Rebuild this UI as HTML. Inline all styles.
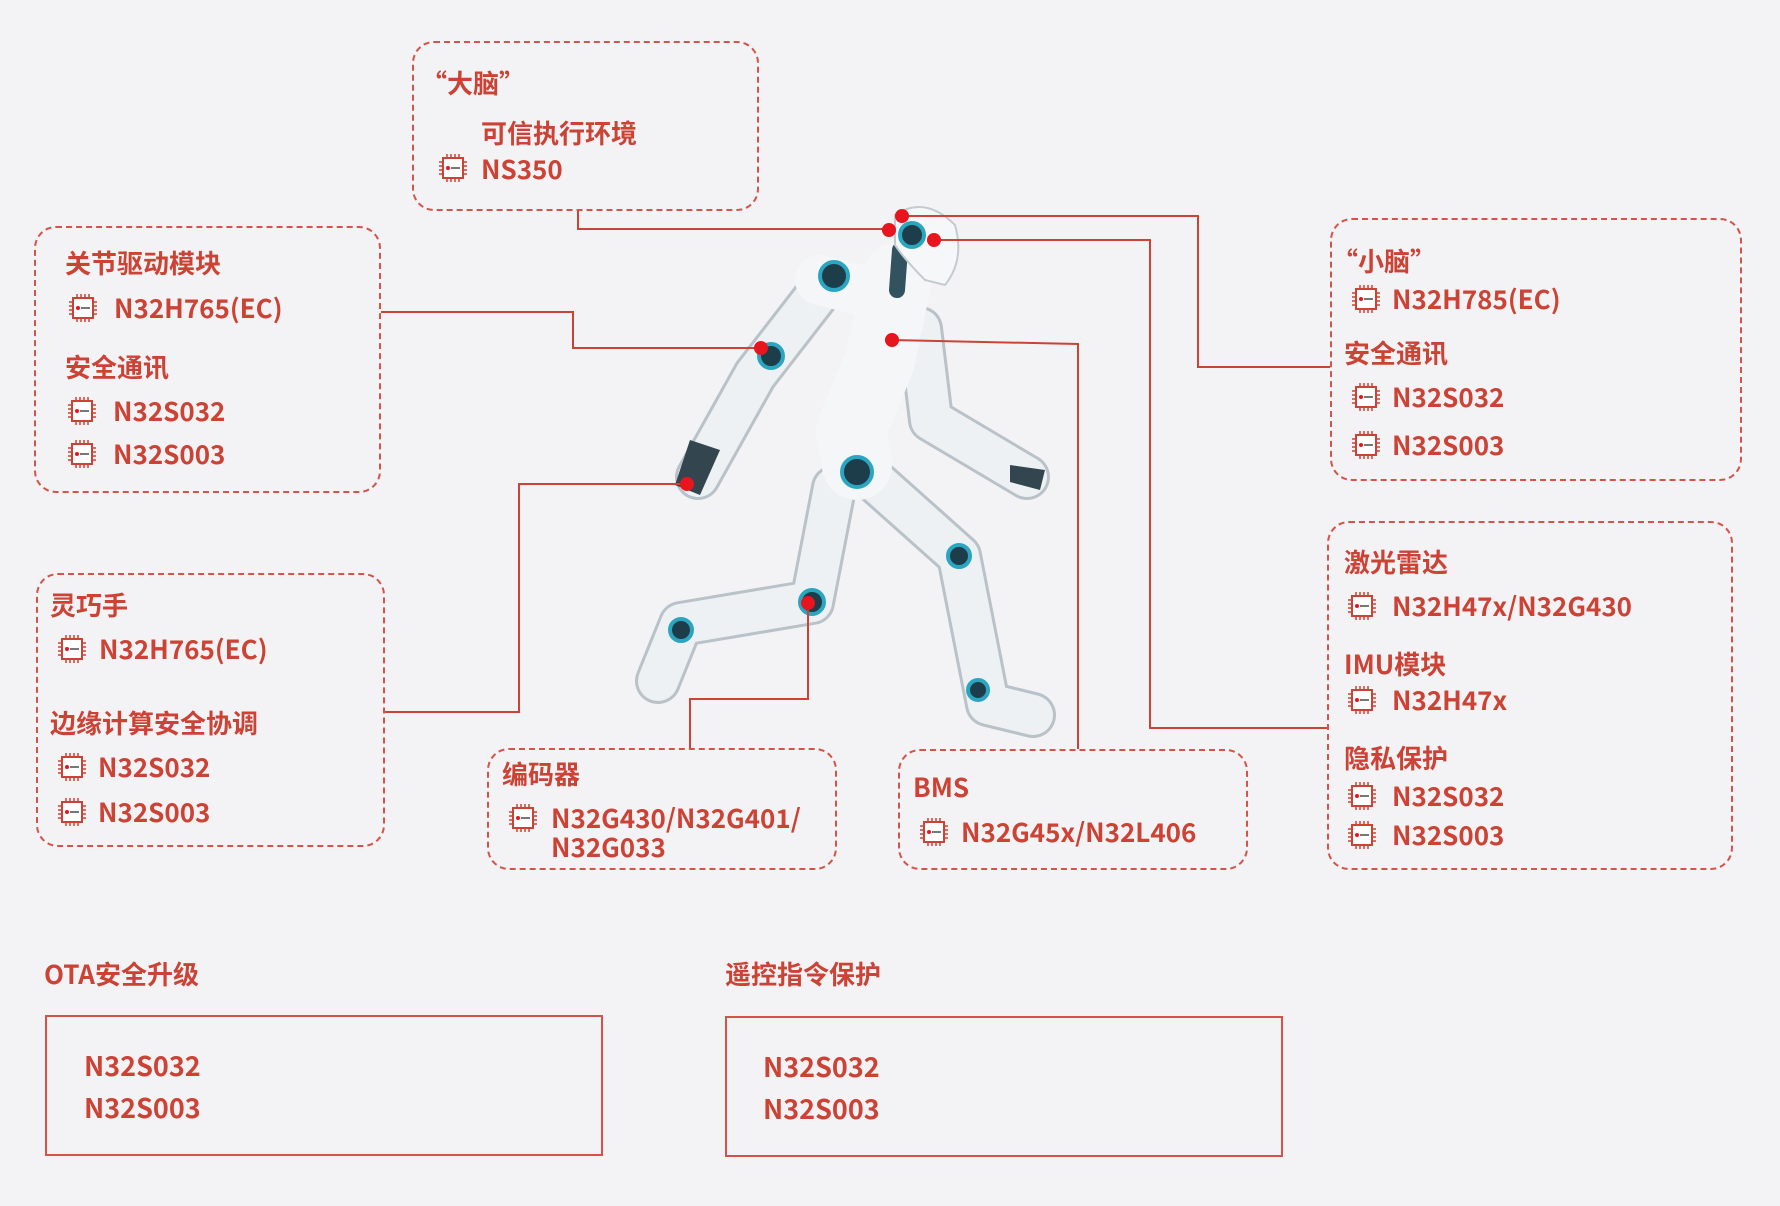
<!DOCTYPE html>
<html><head><meta charset="utf-8">
<style>
*{margin:0;padding:0;box-sizing:border-box}
body{width:1780px;height:1206px;background:#f3f3f5;position:relative;overflow:hidden;font-family:"Noto Sans CJK SC","Liberation Sans",sans-serif;color:#cc4336;font-weight:700}
.box{position:absolute;border:2px dashed #d4544a;border-radius:22px}
.sol{position:absolute;border:2px solid #d65148}
.t{position:absolute;font-size:26px;line-height:26px;white-space:nowrap}
.m{font-weight:600}
.c{position:absolute;width:30px;height:30px}
svg.lines{position:absolute;left:0;top:0}
</style></head><body>
<svg width="0" height="0" style="position:absolute">
<defs>
<symbol id="chip" viewBox="0 0 30 30">
<rect x="5" y="5" width="20" height="20" fill="#fff" stroke="#cc4336" stroke-width="2"/>
<g stroke="#cc4336" stroke-width="1.5">
<path d="M9 1v4M13 1v4M17 1v4M21 1v4M9 25v4M13 25v4M17 25v4M21 25v4M1 9h4M1 13h4M1 17h4M1 21h4M25 9h4M25 13h4M25 17h4M25 21h4"/>
</g>
<circle cx="10" cy="15" r="2" fill="#e8141e"/>
<rect x="13" y="14" width="9" height="2" fill="#777"/>
</symbol>
</defs></svg>

<svg class="lines" width="1780" height="1206">
<g stroke-linecap="round" stroke-linejoin="round" fill="none">
 <g stroke="#b9c2c8" stroke-width="46">
  <path d="M834 488 L812 602 L681 624 L658 681"/>
  <path d="M857 465 L959 556 L988 704 L1033 715"/>
  <path d="M817 295 L755 375 L698 477"/>
  <path d="M920 329 L931 420 L1027 477"/>
  <path d="M897 278 L880 360 L851 431 L857 465"/>
 </g>
 <g stroke="#eef1f3" stroke-width="40">
  <path d="M834 488 L812 602 L681 624 L658 681"/>
  <path d="M857 465 L959 556 L988 704 L1033 715"/>
  <path d="M817 295 L755 375 L698 477"/>
  <path d="M920 329 L931 420 L1027 477"/>
 </g>
 <path d="M897 278 L880 360 L851 431 L857 465" stroke="#f4f6f7" stroke-width="70"/>
 <path d="M820 280 L900 300" stroke="#f4f6f7" stroke-width="50"/>
 <path d="M900 250 L897 290" stroke="#33525f" stroke-width="16"/>
</g>
<path d="M895 215 Q925 195 955 225 Q965 260 945 285 L925 280 Q905 260 895 245 Z" fill="#f6f7f8" stroke="#c4cbd0" stroke-width="2"/>
<g fill="#1e3d4b" stroke="#2aa6c0" stroke-width="4">
 <circle cx="912" cy="235" r="12"/><circle cx="834" cy="276" r="14"/><circle cx="857" cy="472" r="15"/>
 <circle cx="959" cy="556" r="11"/><circle cx="681" cy="630" r="11"/><circle cx="978" cy="690" r="10"/>
 <circle cx="771" cy="356" r="12"/><circle cx="812" cy="602" r="12"/>
</g>
<g fill="#33454f"><path d="M690 440 l-15 45 l25 10 l20-45z"/><path d="M1010 465 l35 5 l-5 20 l-30-8z"/></g>

<g stroke="#cc4336" stroke-width="2" fill="none">
 <polyline points="578,211 578,229 889,229"/>
 <polyline points="902,216 1198,216 1198,367 1330,367"/>
 <polyline points="934,240 1150,240 1150,728 1327,728"/>
 <polyline points="892,340 1078,344 1078,749"/>
 <polyline points="381,312 573,312 573,348 761,348"/>
 <polyline points="385,712 519,712 519,484 687,484"/>
 <polyline points="690,748 690,699 808,699 808,603"/>
</g>
<g fill="#e8141e">
 <circle cx="889" cy="230" r="7"/><circle cx="902" cy="216" r="7"/><circle cx="934" cy="240" r="7"/>
 <circle cx="892" cy="340" r="7"/><circle cx="761" cy="348" r="7"/><circle cx="687" cy="484" r="7"/><circle cx="808" cy="603" r="7"/>
</g>
</svg>

<div class="box" style="left:412px;top:41px;width:347px;height:170px"></div>
<div class="box" style="left:34px;top:226px;width:347px;height:267px"></div>
<div class="box" style="left:1330px;top:218px;width:412px;height:263px"></div>
<div class="box" style="left:1327px;top:521px;width:406px;height:349px"></div>
<div class="box" style="left:36px;top:573px;width:349px;height:274px"></div>
<div class="box" style="left:487px;top:748px;width:350px;height:122px"></div>
<div class="box" style="left:898px;top:749px;width:350px;height:121px"></div>
<div class="sol" style="left:45px;top:1015px;width:558px;height:141px"></div>
<div class="sol" style="left:725px;top:1016px;width:558px;height:141px"></div>

<div class="t" style="left:421px;top:70px">“大脑”</div>
<div class="t" style="left:481px;top:120px">可信执行环境</div>
<svg class="c" style="left:438px;top:153px"><use href="#chip"/></svg>
<div class="t" style="left:481px;top:156px">NS350</div>

<div class="t" style="left:65px;top:250px">关节驱动模块</div>
<svg class="c" style="left:68px;top:293px"><use href="#chip"/></svg>
<div class="t" style="left:114px;top:295px">N32H765(EC)</div>
<div class="t" style="left:65px;top:354px">安全通讯</div>
<svg class="c" style="left:67px;top:396px"><use href="#chip"/></svg>
<div class="t m" style="left:113px;top:398px">N32S032</div>
<svg class="c" style="left:67px;top:439px"><use href="#chip"/></svg>
<div class="t m" style="left:113px;top:441px">N32S003</div>

<div class="t" style="left:1332px;top:248px">“小脑”</div>
<svg class="c" style="left:1351px;top:284px"><use href="#chip"/></svg>
<div class="t" style="left:1392px;top:286px">N32H785(EC)</div>
<div class="t" style="left:1344px;top:340px">安全通讯</div>
<svg class="c" style="left:1351px;top:382px"><use href="#chip"/></svg>
<div class="t m" style="left:1392px;top:384px">N32S032</div>
<svg class="c" style="left:1351px;top:430px"><use href="#chip"/></svg>
<div class="t m" style="left:1392px;top:432px">N32S003</div>

<div class="t" style="left:1344px;top:549px">激光雷达</div>
<svg class="c" style="left:1347px;top:591px"><use href="#chip"/></svg>
<div class="t" style="left:1392px;top:593px">N32H47x/N32G430</div>
<div class="t" style="left:1344px;top:651px">IMU模块</div>
<svg class="c" style="left:1347px;top:685px"><use href="#chip"/></svg>
<div class="t m" style="left:1392px;top:687px">N32H47x</div>
<div class="t" style="left:1344px;top:745px">隐私保护</div>
<svg class="c" style="left:1347px;top:781px"><use href="#chip"/></svg>
<div class="t m" style="left:1392px;top:783px">N32S032</div>
<svg class="c" style="left:1347px;top:820px"><use href="#chip"/></svg>
<div class="t m" style="left:1392px;top:822px">N32S003</div>

<div class="t" style="left:50px;top:592px">灵巧手</div>
<svg class="c" style="left:57px;top:634px"><use href="#chip"/></svg>
<div class="t" style="left:99px;top:636px">N32H765(EC)</div>
<div class="t" style="left:50px;top:710px">边缘计算安全协调</div>
<svg class="c" style="left:57px;top:752px"><use href="#chip"/></svg>
<div class="t m" style="left:98px;top:754px">N32S032</div>
<svg class="c" style="left:57px;top:797px"><use href="#chip"/></svg>
<div class="t m" style="left:98px;top:799px">N32S003</div>

<div class="t" style="left:502px;top:761px">编码器</div>
<svg class="c" style="left:508px;top:803px"><use href="#chip"/></svg>
<div class="t" style="left:551px;top:805px">N32G430/N32G401/</div>
<div class="t" style="left:551px;top:834px">N32G033</div>

<div class="t" style="left:913px;top:774px">BMS</div>
<svg class="c" style="left:919px;top:817px"><use href="#chip"/></svg>
<div class="t" style="left:961px;top:819px">N32G45x/N32L406</div>

<div class="t" style="left:44px;top:961px">OTA安全升级</div>
<div class="t" style="left:725px;top:961px">遥控指令保护</div>
<div class="t m" style="left:84px;top:1051px;font-size:27px;line-height:28px">N32S032</div>
<div class="t m" style="left:84px;top:1093px;font-size:27px;line-height:28px">N32S003</div>
<div class="t m" style="left:763px;top:1052px;font-size:27px;line-height:28px">N32S032</div>
<div class="t m" style="left:763px;top:1094px;font-size:27px;line-height:28px">N32S003</div>
</body></html>
